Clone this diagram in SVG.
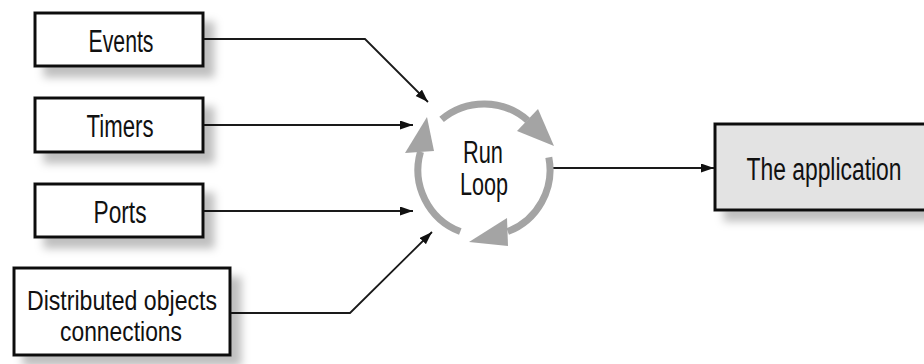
<svg xmlns="http://www.w3.org/2000/svg" width="924" height="364" viewBox="0 0 924 364">
<style>
.box{fill:#fff;stroke:#111;stroke-width:3;filter:url(#sh)}
.app{fill:#e3e3e3;stroke:#111;stroke-width:3;filter:url(#sh)}
.t{font-family:"Liberation Sans",Arial,sans-serif;font-size:31px;fill:#111;text-anchor:middle}
.s{font-size:28px}
.c{fill:none;stroke:#1a1a1a;stroke-width:1.8}
.loop{fill:none;stroke:#a4a4a4;stroke-width:7}
.head{fill:#a4a4a4}
</style>
<defs>
<filter id="sh" x="-20%" y="-30%" width="150%" height="180%">
<feDropShadow dx="10" dy="10" stdDeviation="4" flood-color="#000" flood-opacity="0.25"/>
</filter>
<marker id="ar" markerUnits="userSpaceOnUse" markerWidth="14" markerHeight="10" refX="13" refY="4.5" orient="auto">
<path d="M0,0 L13,4.5 L0,9 z" fill="#111"/>
</marker>
</defs>
<rect width="924" height="364" fill="#fff"/>
<g id="connectors">
<polyline class="c" points="203,39 365,39 428,102" marker-end="url(#ar)"/>
<line class="c" x1="203" y1="125" x2="413" y2="125" marker-end="url(#ar)"/>
<line class="c" x1="203" y1="211" x2="413" y2="211" marker-end="url(#ar)"/>
<polyline class="c" points="230,313 350,313 432,232" marker-end="url(#ar)"/>
<line class="c" x1="553" y1="168" x2="714" y2="168" marker-end="url(#ar)"/>
</g>
<g id="events">
<rect class="box" x="35" y="13" width="168" height="53"/>
<text class="t" x="121" y="52" textLength="65" lengthAdjust="spacingAndGlyphs">Events</text>
</g>
<g id="timers">
<rect class="box" x="35" y="98" width="168" height="54"/>
<text class="t" x="120" y="137" textLength="67" lengthAdjust="spacingAndGlyphs">Timers</text>
</g>
<g id="ports">
<rect class="box" x="35" y="184" width="168" height="53"/>
<text class="t" x="120" y="223" textLength="53" lengthAdjust="spacingAndGlyphs">Ports</text>
</g>
<g id="distributed">
<rect class="box" x="14" y="268" width="216" height="87"/>
<text class="t s" x="122" y="310" textLength="190" lengthAdjust="spacingAndGlyphs">Distributed objects</text>
<text class="t s" x="121" y="341" textLength="122" lengthAdjust="spacingAndGlyphs">connections</text>
</g>
<g id="runloop">
<path class="loop" d="M441.6,119.4 A66,66 0 0 1 527.6,120.4"/>
<polygon class="head" points="538,109 517,131 554,146"/>
<path class="loop" d="M548.8,157.4 A66,66 0 0 1 507.7,231.6"/>
<polygon class="head" points="507,218 508,246 469,242"/>
<path class="loop" d="M460.3,231.6 A66,66 0 0 1 420.5,151.8"/>
<polygon class="head" points="405,153 434,151 427,117"/>
<text class="t" x="483" y="163" textLength="40" lengthAdjust="spacingAndGlyphs">Run</text>
<text class="t" x="484" y="195" textLength="48" lengthAdjust="spacingAndGlyphs">Loop</text>
</g>
<g id="application">
<rect class="app" x="715" y="124" width="230" height="86"/>
<text class="t" x="824" y="180" textLength="155" lengthAdjust="spacingAndGlyphs">The application</text>
</g>
</svg>
